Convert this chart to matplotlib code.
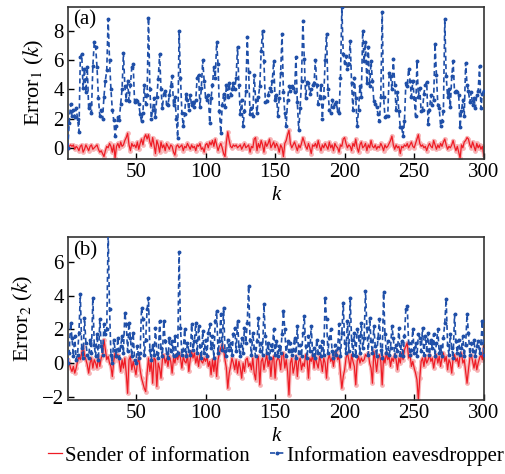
import matplotlib
matplotlib.use("Agg")
from matplotlib import pyplot as plt

# values (k = 1..300)
sender_a = [
    0.0, 0.1, 0.2, 0.1, 0.2, -0.1, 0.1, 0.0, -0.2, 0.1, 0.2, -0.3, -0.1, 0.2, 0.0, -0.2, 0.1, 0.2, -0.1, 0.0,
    0.1, 0.2, -0.1, -0.3, -0.2, -0.4, -0.6, -0.2, 0.1, 0.0, 0.3, 0.1, -0.3, 0.2, -0.7, 0.1, 0.3, 0.0, 0.4, 0.1,
    0.2, 0.5, 0.7, 1.0, 0.2, -0.2, 0.3, 0.1, 0.2, 0.0, 0.4, -0.1, 0.3, 0.6, 0.2, 0.7, 0.9, 0.6, 0.9, 0.4,
    0.1, 0.7, 0.2, -0.4, 0.5, 0.2, -0.3, 0.4, 0.0, 0.2, -0.2, 0.3, 0.1, -0.1, 0.2, 0.1, -0.3, -0.5, 0.1, 0.2,
    0.0, 0.1, 0.2, -0.2, 0.1, 0.0, 0.3, 0.1, -0.1, 0.2, 0.0, 0.1, -0.2, 0.2, 0.1, 0.3, -0.1, 0.0, -0.3, 0.2,
    0.3, 0.0, 0.4, 0.2, 0.5, 0.1, 0.6, 0.2, -0.2, 0.1, 0.3, 0.0, -0.4, -0.6, 0.4, 1.1, 0.5, 0.1, 0.0, 0.2,
    0.1, 0.2, 0.0, 0.1, 0.2, -0.1, 0.1, 0.3, 0.0, 0.1, 0.2, -0.3, 0.1, 0.0, 0.6, 0.7, -0.2, 0.3, 0.0, 0.5,
    0.2, -0.3, 0.4, 0.1, 0.3, 0.6, 0.0, 0.2, 0.4, 0.0, 0.3, 0.1, -0.3, 0.2, 0.0, -0.6, 0.3, 0.5, 0.9, 1.2,
    0.3, 0.0, 0.2, 0.4, 0.1, -0.2, 0.2, 0.0, 0.3, 0.7, 0.4, 0.1, -0.1, 0.3, 0.0, -0.4, 0.2, 0.1, 0.3, 0.0,
    0.5, 0.1, -0.2, 0.2, 0.0, 0.3, 0.1, -0.1, 0.4, 0.0, 0.2, -0.2, 0.3, 0.1, 0.0, -0.3, 0.2, 0.1, 0.6, 0.7,
    0.3, 0.0, 0.2, 0.1, -0.2, 0.3, 0.1, 0.6, 0.0, -0.3, 0.2, 0.4, 0.0, 0.1, 0.3, -0.2, 0.2, 0.0, 0.5, 0.1,
    0.0, 0.2, -0.1, 0.1, 0.0, 0.3, 0.1, -0.2, 0.2, 0.0, 0.1, 0.3, 0.5, 0.8, 0.2, -0.1, 0.2, 0.0, 0.1, -0.4,
    0.1, 0.0, 0.2, 0.1, 0.3, 0.0, 0.2, 0.4, 0.1, 0.0, 0.3, 0.6, 0.9, 0.3, 0.1, 0.2, 0.0, 0.1, -0.2, 0.1,
    0.3, 0.1, 0.0, 0.5, 0.2, -0.1, 0.2, 0.0, 0.3, 0.1, 0.4, 0.6, 0.2, -0.1, 0.1, 0.0, 0.2, 0.5, 0.1, -0.2,
    0.1, -0.3, -0.7, 0.2, 0.0, 0.4, 0.5, 0.7, 0.6, 0.2, 0.0, 0.4, 0.1, -0.2, 0.3, 0.0, 0.2, -0.1, 0.1, -0.5,
]

eaves_a = [
    0.0, 1.7, 3.0, 2.2, 2.6, 2.1, 2.7, 2.0, 1.1, 6.2, 6.4, 4.1, 5.4, 3.8, 5.5, 2.7, 3.0, 2.4, 5.6, 7.2,
    6.9, 5.5, 3.4, 2.2, 2.6, 2.0, 3.5, 4.6, 5.3, 8.8, 6.0, 4.0, 2.6, 1.9, 0.8, 1.5, 2.1, 1.9, 3.0, 4.0,
    6.5, 4.2, 3.3, 4.6, 3.2, 4.3, 5.5, 5.7, 3.1, 3.3, 3.2, 3.0, 2.3, 1.8, 2.4, 4.3, 3.0, 3.6, 8.9, 4.0,
    2.0, 2.6, 3.4, 2.1, 3.5, 4.7, 6.4, 4.0, 2.7, 3.7, 3.9, 3.0, 2.9, 3.6, 4.2, 4.9, 2.9, 3.5, 2.0, 0.7,
    8.0, 4.8, 2.4, 1.5, 2.3, 3.7, 3.3, 2.6, 3.6, 2.9, 3.1, 2.8, 3.3, 4.8, 5.0, 2.8, 4.1, 6.0, 4.6, 3.5,
    3.3, 3.6, 1.7, 3.4, 4.3, 5.5, 4.8, 7.2, 5.7, 2.5, 1.0, 2.9, 3.7, 2.8, 4.3, 3.5, 4.4, 3.6, 4.0, 4.4,
    4.0, 4.8, 6.9, 4.3, 2.3, 3.3, 1.5, 2.5, 3.9, 7.6, 5.2, 2.3, 2.7, 2.2, 5.0, 3.3, 2.4, 3.5, 4.2, 6.6,
    8.0, 5.9, 3.1, 3.2, 3.6, 4.1, 3.9, 4.6, 5.9, 3.3, 3.6, 2.2, 3.4, 5.1, 7.8, 3.8, 2.4, 1.5, 3.3, 4.2,
    3.9, 4.2, 4.1, 3.8, 6.2, 3.1, 1.2, 2.7, 4.6, 8.7, 6.1, 3.4, 4.5, 4.4, 3.7, 4.0, 4.3, 4.4, 6.0, 4.3,
    3.0, 3.4, 4.3, 2.0, 3.5, 6.0, 7.8, 4.0, 2.6, 2.4, 3.3, 2.8, 3.0, 3.1, 2.5, 2.4, 4.8, 9.6, 6.4, 5.8,
    6.3, 5.4, 5.7, 7.3, 4.4, 2.6, 4.8, 3.4, 1.5, 2.6, 4.2, 3.5, 8.0, 5.9, 7.2, 4.4, 6.9, 4.2, 5.9, 4.6,
    3.2, 3.0, 2.8, 2.3, 1.8, 3.5, 9.3, 3.5, 2.1, 2.2, 2.2, 5.1, 4.9, 4.0, 6.1, 4.3, 2.6, 3.8, 2.5, 1.4,
    1.4, 0.8, 1.8, 4.4, 4.2, 5.4, 4.6, 3.5, 4.6, 3.4, 2.2, 5.9, 3.5, 4.1, 2.5, 2.6, 3.7, 4.3, 4.5, 1.6,
    2.6, 3.6, 2.9, 3.3, 7.1, 5.0, 2.9, 2.7, 1.5, 1.8, 2.5, 8.8, 4.9, 3.5, 4.0, 2.8, 4.9, 5.9, 3.8, 3.9,
    3.8, 3.6, 1.4, 2.5, 3.3, 2.2, 5.8, 4.3, 3.9, 3.1, 3.8, 2.9, 3.4, 2.7, 3.6, 3.9, 5.6, 2.7, 3.7, 3.9,
]

sender_b = [
    0.2, 0.0, -0.3, -0.5, -0.2, -0.6, -0.3, 0.1, 0.4, 0.2, 0.6, 1.0, 0.5, 0.2, -0.1, -0.6, 0.0, 0.3, -0.3, 0.2,
    0.0, -0.3, 0.4, -0.2, 0.3, 0.5, 1.4, 0.8, 0.2, 0.4, 0.0, -0.2, -0.8, 0.1, 0.6, 0.3, 0.5, 0.1, -0.5, 0.2,
    -0.3, 0.3, -0.6, -1.8, 0.2, 0.4, -0.4, 0.1, -0.3, -0.7, 0.0, 0.3, -0.4, -0.9, -1.2, -1.5, -1.7, -0.6, 0.3, -0.5,
    0.1, -1.2, 0.3, 0.2, -1.4, 0.0, -0.3, -0.9, 0.2, 0.5, 0.0, 0.3, -0.2, 0.4, 0.1, -0.6, 0.3, 0.0, 0.5, 0.2,
    0.6, 0.3, -0.3, 0.4, 0.1, 0.0, 0.5, -0.5, 0.2, 0.7, 0.3, 0.6, 0.0, 0.4, -0.2, 0.5, 0.1, 0.0, 0.3, 0.1,
    0.4, -0.2, 0.1, -0.7, 0.2, -0.5, 0.3, -0.8, 0.2, 0.6, 0.9, 1.1, 0.8, 0.2, -0.3, -1.5, -0.6, -0.2, 0.3, 0.0,
    -0.4, 0.2, -0.6, 0.1, -0.3, -0.9, 0.0, -0.5, 0.2, 0.3, -0.2, 0.0, -0.4, 0.3, -0.6, -1.0, 0.2, 0.4, -1.3, 0.1,
    0.3, -0.4, 0.1, 0.5, -0.2, 0.3, -0.8, 0.2, 0.4, -0.9, 0.1, 0.3, 0.2, -0.4, 0.5, 0.6, -0.3, 0.2, -0.5, -1.9,
    0.0, 0.3, -0.6, -0.2, 0.4, -0.8, 0.1, 0.3, -0.4, 0.0, -0.2, 0.5, 0.2, -0.9, 0.3, 0.1, 0.5, -0.3, 0.4, 0.0,
    -0.3, 0.4, 0.1, -0.5, 0.3, 0.0, -0.9, 0.2, 0.5, 0.1, 0.3, -0.2, 0.4, 0.7, 0.2, 0.4, -0.6, -1.5, -0.8, -0.4,
    0.3, 0.6, 0.2, -0.3, 0.5, 0.1, -0.2, -1.3, 0.1, 0.4, 0.0, 0.3, 0.1, 0.2, 0.5, 0.4, 0.6, 0.0, -0.3, -1.2,
    0.7, 0.2, -0.5, 0.3, 0.5, 0.1, -1.3, 0.4, 0.0, 0.6, 0.2, 0.4, -0.2, 0.3, 0.1, 0.5, 0.2, -0.4, 0.3, 0.0,
    0.6, 0.2, 0.8, 1.0, 1.2, 0.3, 0.5, -0.2, 0.1, -0.3, -0.6, -1.0, -2.2, -0.9, 0.1, 0.3, -0.2, 0.4, 0.0, 0.2,
    0.5, 0.1, 0.3, -0.3, 0.2, 0.5, 0.0, 0.4, -0.2, 0.3, 0.6, 0.1, 0.4, -0.4, 0.2, 0.0, -0.6, 0.3, 0.5, 0.1,
    0.3, -0.2, 0.5, 0.6, 0.0, 0.2, -0.5, -1.2, -0.4, 0.3, 0.5, 0.1, -0.3, 0.2, -0.4, 0.0, 0.3, 0.5, 0.2, 1.0,
]

eaves_b = [
    0.0, 0.6, 2.4, 1.5, 0.4, 1.6, 0.2, 0.5, 1.8, 4.1, 0.9, 0.3, 2.7, 1.2, 0.5, 0.3, 1.4, 0.6, 3.9, 1.1,
    0.4, 1.7, 0.2, 2.6, 1.0, 0.5, 2.3, 1.7, 2.0, 7.8, 3.2, 0.5, 0.0, 1.4, 0.8, 0.4, 1.5, 0.3, 1.0, 1.6,
    0.6, 3.0, 2.3, 0.7, 2.4, 1.5, 0.4, 1.8, 0.2, 0.0, 1.0, 0.3, 0.6, 3.3, 2.6, 0.5, 1.4, 3.2, 3.9, 0.8,
    0.2, 1.1, 0.5, 2.1, 0.6, 0.3, 2.5, 0.9, 0.4, 2.5, 1.3, 0.6, 0.3, 1.5, 0.7, 1.3, 0.4, 1.6, 0.5, 0.6,
    6.6, 2.1, 0.5, 0.8, 2.0, 0.4, 1.2, 0.7, 0.5, 2.3, 0.8, 1.3, 2.4, 0.6, 2.2, 1.0, 0.3, 1.9, 0.6, 1.4,
    0.4, 1.8, 2.3, 0.9, 1.6, 0.3, 2.5, 3.1, 0.6, 1.3, 2.9, 0.8, 3.3, 0.7, 0.4, 1.4, 0.8, 1.2, 0.5, 1.7,
    2.1, 0.7, 2.5, 1.0, 0.4, 1.5, 0.6, 2.1, 1.2, 2.4, 4.6, 1.4, 0.5, 1.8, 0.9, 0.4, 1.3, 2.7, 0.7, 1.2,
    0.5, 3.5, 1.6, 0.6, 1.2, 0.3, 1.1, 0.8, 2.0, 0.5, 1.3, 0.4, 1.0, 0.6, 1.7, 3.1, 2.0, 0.4, 1.3, 0.7,
    1.2, 0.5, 0.8, 1.5, 0.3, 2.2, 0.6, 1.1, 0.4, 1.8, 2.8, 1.0, 0.3, 1.6, 0.7, 2.2, 0.5, 0.9, 0.3, 1.4,
    0.6, 1.0, 0.4, 1.3, 0.5, 3.9, 2.6, 0.6, 1.5, 2.0, 0.7, 0.3, 1.1, 0.5, 0.9, 2.3, 0.4, 1.8, 3.6, 1.2,
    0.6, 2.5, 0.7, 3.9, 1.4, 0.5, 1.8, 0.4, 2.0, 1.6, 0.6, 2.4, 0.9, 1.5, 4.3, 2.1, 0.5, 2.7, 1.3, 0.6,
    2.2, 1.0, 0.4, 1.5, 2.6, 0.8, 0.3, 4.2, 1.7, 0.6, 1.3, 0.5, 0.9, 2.2, 1.5, 0.4, 1.1, 0.7, 2.1, 0.5,
    1.3, 0.4, 1.6, 3.2, 3.4, 1.2, 0.5, 0.8, 2.0, 0.6, 1.2, 0.4, 1.7, 1.5, 0.7, 2.1, 0.5, 1.6, 0.8, 1.8,
    0.5, 1.4, 0.9, 1.7, 0.4, 1.2, 2.0, 0.6, 1.0, 0.4, 1.5, 2.4, 3.8, 1.1, 0.5, 1.7, 0.9, 0.3, 2.9, 1.3,
    0.6, 1.4, 0.5, 0.9, 1.6, 0.4, 1.1, 2.9, 1.8, 0.5, 1.2, 0.7, 1.4, 0.4, 1.0, 1.3, 0.6, 1.2, 2.5, 0.5,
]

for s in (sender_a, eaves_a, sender_b, eaves_b):
    assert len(s) == 300, len(s)

k = list(range(1, 301))

plt.rcParams['font.family'] = ['Liberation Serif', 'DejaVu Serif']
plt.rcParams['mathtext.fontset'] = 'stix'

red = '#ee1c25'
pink = '#f7b3b5'
blue = '#1f4fa8'

fig = plt.figure(figsize=(5.06, 4.74), dpi=100)
ax1 = fig.add_axes([0.134, 0.665, 0.822, 0.321])
ax2 = fig.add_axes([0.134, 0.156, 0.822, 0.344])

panels = [
    (ax1, sender_a, eaves_a, (-0.75, 9.65), [0, 2, 4, 6, 8], r'Error$_1$ ($k$)', '(a)'),
    (ax2, sender_b, eaves_b, (-2.2, 7.5), [-2, 0, 2, 4, 6], r'Error$_2$ ($k$)', '(b)'),
]

for ax, s, e, ylim, yt, ylab, tag in panels:
    # pale halo under the red line
    ax.plot(k, s, color=pink, lw=2.6, marker='o', ms=2.4, mfc=pink, mec=pink, zorder=1)
    ax.plot(k, s, color=red, lw=0.9, label='Sender of information', zorder=2)
    ax.plot(k, e, color=blue, lw=1.2, ls=(0, (3, 2)), marker='o', ms=1.8, mfc=blue, mec=blue,
            label='Information eavesdropper', zorder=3)
    ax.set_xlim(1, 300)
    ax.set_ylim(*ylim)
    ax.set_xticks([50, 100, 150, 200, 250, 300])
    ax.set_yticks(yt)
    ax.set_yticklabels([str(v).replace('-', '\u2212') for v in yt])
    ax.tick_params(direction='in', length=4, labelsize=15, width=1, pad=3)
    ax.set_xlabel('k', fontsize=15, style='italic', labelpad=3)
    ax.set_ylabel(ylab, fontsize=16, labelpad=5)
    ax.text(0.012, 0.975, tag, transform=ax.transAxes, fontsize=15, va='top', ha='left')
    for sp in ax.spines.values():
        sp.set_color('#333333')
        sp.set_linewidth(1.2)

handles, labels = ax2.get_legend_handles_labels()
fig.legend(handles, labels, loc='lower center', bbox_to_anchor=(0.545, -0.022), ncol=2,
           frameon=False, fontsize=15, handlelength=0.7, handletextpad=0.1, columnspacing=1.0)

plt.savefig('out.png', dpi=100)
